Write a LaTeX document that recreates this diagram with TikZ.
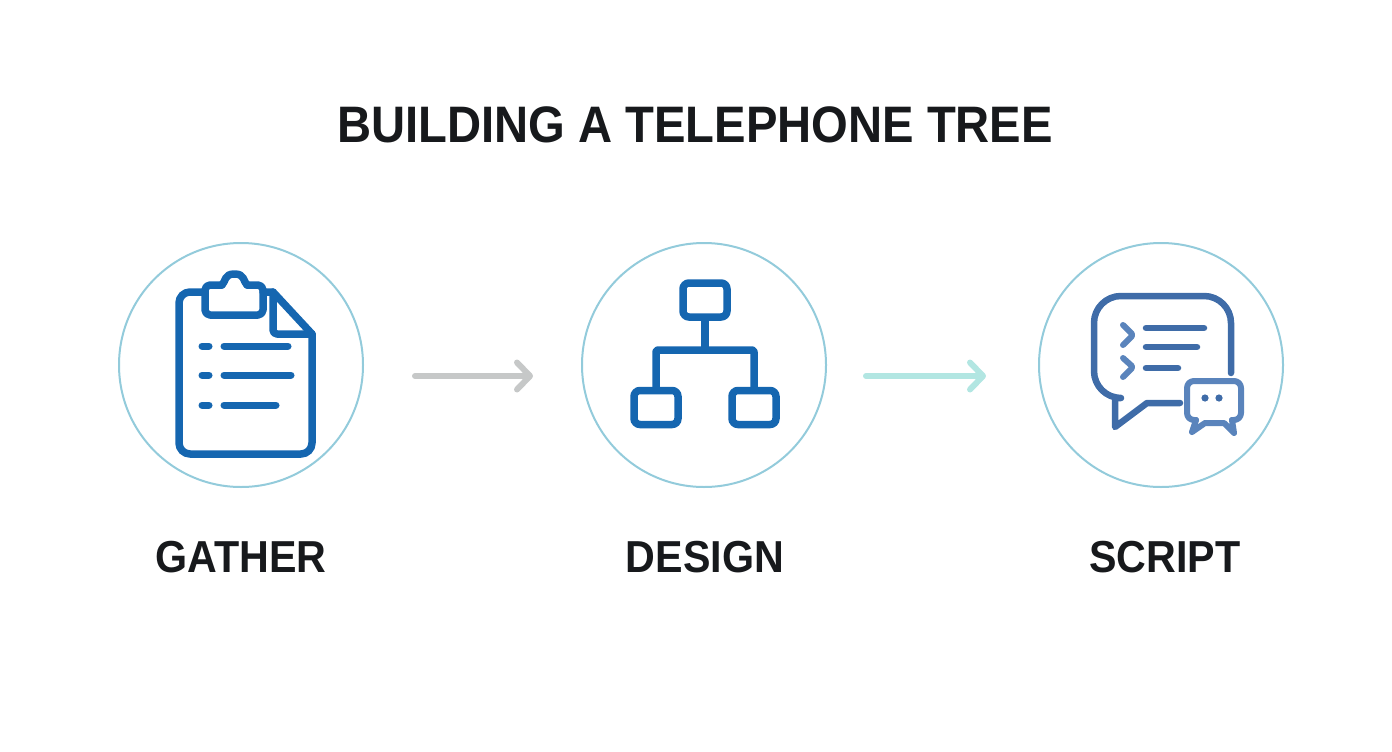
\documentclass[tikz,border=0pt]{standalone}
\usepackage{fontspec}
\setmainfont{Liberation Sans}[FakeStretch=0.92]
\usetikzlibrary{arrows.meta}
\definecolor{ringblue}{HTML}{93CBDB}
\definecolor{iconblue}{HTML}{1566B0}
\definecolor{chatblue}{HTML}{3F6CA8}
\definecolor{chatlight}{HTML}{5A84BC}
\definecolor{inkdark}{HTML}{17191C}
\definecolor{arrowgrey}{HTML}{C6C8C8}
\definecolor{arrowteal}{HTML}{B2E6E2}
\tikzset{
  ring/.style={circle,draw=ringblue,line width=2pt,minimum size=244pt,inner sep=0pt},
  heading/.style={text=inkdark,font=\fontsize{51.3}{58}\selectfont\bfseries},
  caption/.style={text=inkdark,font=\fontsize{44.8}{50}\selectfont\bfseries},
  iconline/.style={draw=iconblue,line width=7.5pt,line cap=round,line join=round},
  listline/.style={draw=iconblue,line width=7pt,line cap=round},
  orgbox/.style={rectangle,draw=iconblue,line width=7.5pt,rounded corners=6pt,minimum width=44pt,minimum height=34pt,inner sep=0pt},
  chatline/.style={draw=chatblue,line width=6.5pt,line cap=round,line join=round},
  chatsmall/.style={draw=chatlight,line width=6pt,line cap=round,line join=round},
  flowarrow/.style={line width=6pt,line cap=round,-{Straight Barb[round,length=13pt,width=27pt]}},
}
\begin{document}
\begin{tikzpicture}[x=1pt,y=-1pt]
  \useasboundingbox (0,0) rectangle (1392,752);
  \node[heading] (title) at (695,125) {BUILDING A TELEPHONE TREE};
  \node[ring] (gather) at (241,365) {};
  \node[ring] (design) at (704,365) {};
  \node[ring] (script) at (1161,365) {};
  \node[caption] (gatherlabel) at (241,557) {GATHER};
  \node[caption] (designlabel) at (705,557) {DESIGN};
  \node[caption] (scriptlabel) at (1165,557) {SCRIPT};
  % arrows
  \draw[flowarrow,arrowgrey,shorten <=51pt,shorten >=48pt] ([yshift=-11pt]gather.east) -- ([yshift=-11pt]design.west);
  \draw[flowarrow,arrowteal,shorten <=39pt,shorten >=52pt] ([yshift=-11pt]design.east) -- ([yshift=-11pt]script.west);
  % clipboard
  \begin{scope}[iconline]
    \draw[rounded corners=11pt] (205,292) -- (179,292) -- (179,454) -- (312,454) -- (312,334);
    \draw (312,334) -- (273,292) -- (263,292);
    \draw[rounded corners=4pt] (273,292) -- (273,334) -- (312,334);
    \draw[rounded corners=5pt] (222,285) -- (205,285) -- (205,315) -- (263,315) -- (263,285) -- (247,285);
    \draw (222,285) .. controls (226,281) and (224,274) .. (234.5,274) .. controls (245,274) and (243,281) .. (247,285);
  \end{scope}
  \draw[listline] (202,346) -- (209,346);
  \draw[listline] (224,346) -- (288,346);
  \draw[listline] (202,375) -- (209,375);
  \draw[listline] (224,375) -- (291,375);
  \draw[listline] (202,405) -- (209,405);
  \draw[listline] (224,405) -- (276,405);
  % org chart
  \node[orgbox] (root) at (705,300) {};
  \node[orgbox] (leftbox) at (656,407.5) {};
  \node[orgbox] (rightbox) at (754,407.5) {};
  \coordinate (bus) at (705,350);
  \draw[iconline,line cap=butt,rounded corners=2pt] (root.south) -- (bus);
  \draw[iconline,line cap=butt,rounded corners=2pt] (bus) -| (leftbox.north);
  \draw[iconline,line cap=butt,rounded corners=2pt] (bus) -| (rightbox.north);
  % chat bubbles
  \draw[chatline,rounded corners=27pt] (1231,373) -- (1231,296) -- (1094,296) -- (1094,398) -- (1115,398);
  \draw[chatline] (1115,397) -- (1115,427) -- (1147,403) -- (1180,403);
  \draw[chatsmall,rounded corners=1.5pt] (1123,325) -- (1133,335) -- (1123,345);
  \draw[chatsmall,rounded corners=1.5pt] (1123,358) -- (1133,367) -- (1123,377);
  \draw[chatline] (1146,328) -- (1204,328);
  \draw[chatline] (1146,347) -- (1197,347);
  \draw[chatline] (1146,368) -- (1178,368);
  \draw[chatsmall,fill=white,rounded corners=7pt] (1196,420) -- (1187,420) -- (1187,381) -- (1241,381) -- (1241,420) -- (1232,420);
  \draw[chatsmall] (1196,420) -- (1192,432) -- (1205,423) -- (1224,423) -- (1234,433) -- (1232,420);
  \fill[chatblue] (1205,398) circle (3.6pt);
  \fill[chatblue] (1219,398) circle (3.6pt);
\end{tikzpicture}
\end{document}
